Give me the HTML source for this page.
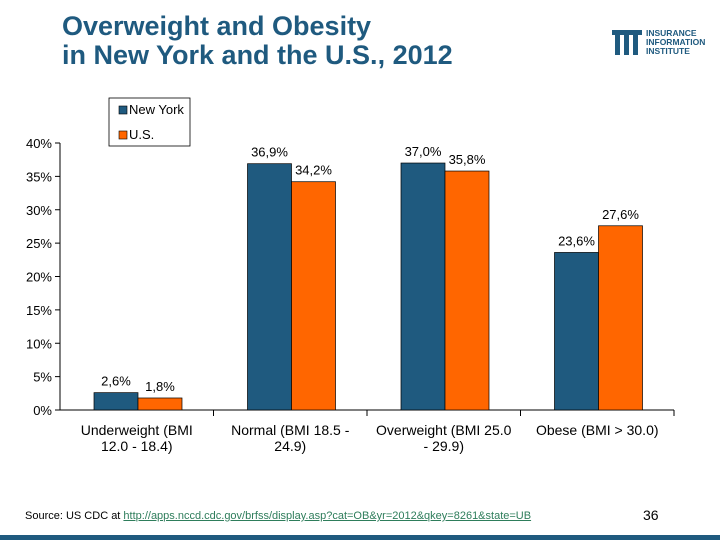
<!DOCTYPE html>
<html><head><meta charset="utf-8"><style>
body{margin:0;width:720px;height:540px;overflow:hidden;background:#fff;font-family:"Liberation Sans",Arial,sans-serif;position:relative}
.t{position:absolute;left:62px;top:12px;font-size:27px;font-weight:bold;color:#1f5a7f;line-height:29px}
</style></head><body>
<div class="t">Overweight and Obesity<br>in New York and the U.S., 2012</div>
<svg style="position:absolute;left:610px;top:26px" width="110" height="34">
<g fill="#1f5a7f"><rect x="2" y="4" width="30" height="5"/><rect x="5" y="9" width="5" height="20"/><rect x="14" y="9" width="5" height="20"/><rect x="23" y="9" width="5" height="20"/></g>
<text x="36" y="10" font-size="8.5" font-weight="bold" fill="#1f5a7f" font-family="Liberation Sans">INSURANCE</text>
<text x="36" y="19" font-size="8.5" font-weight="bold" fill="#1f5a7f" font-family="Liberation Sans">INFORMATION</text>
<text x="36" y="28" font-size="8.5" font-weight="bold" fill="#1f5a7f" font-family="Liberation Sans">INSTITUTE</text>
</svg>
<svg id="c" width="720" height="540" style="position:absolute;left:0;top:0" font-family="Liberation Sans" font-size="13"></svg>
<div style="position:absolute;left:25px;top:510px;font-size:11px;color:#000">Source: US CDC at <span style="color:#2e7d5b;text-decoration:underline">http://apps.nccd.cdc.gov/brfss/display.asp?cat=OB&amp;yr=2012&amp;qkey=8261&amp;state=UB</span></div>
<div style="position:absolute;left:643px;top:507px;font-size:14px">36</div>
<div style="position:absolute;left:0;top:535px;width:720px;height:5px;background:#1f5a7f"></div>
<script>
const categories=[["Underweight (BMI","12.0 - 18.4)"],["Normal (BMI 18.5 -","24.9)"],["Overweight (BMI 25.0","- 29.9)"],["Obese (BMI > 30.0)"]];
const nyValues=[2.6,36.9,37.0,23.6];
const usValues=[1.8,34.2,35.8,27.6];
const yTicks=[0,5,10,15,20,25,30,35,40];
const svg=document.getElementById('c');const NS='http://www.w3.org/2000/svg';
function mk(t,a,p){const e=document.createElementNS(NS,t);for(const k in a)e.setAttribute(k,a[k]);(p||svg).appendChild(e);return e;}
const x0=60,x1=674,y0=410,yTop=143;
const y=v=>y0-(v/40)*(y0-yTop);
const cw=(x1-x0)/categories.length;
const cx=i=>x0+i*cw;
let l=mk('line',{x1:x0,y1:yTop,x2:x0,y2:y0,stroke:'#000'});

l=mk('line',{x1:x0,y1:y0,x2:x1,y2:y0,stroke:'#000'});

yTicks.forEach(v=>{
 mk('line',{x1:x0-5,y1:y(v),x2:x0,y2:y(v),stroke:'#000'});
 const t=mk('text',{x:52,y:y(v)+5,'text-anchor':'end'});t.textContent=v+'%';
 
});
categories.forEach((c,i)=>{
 mk('line',{x1:cx(i+1),y1:y0,x2:cx(i+1),y2:y0+6,stroke:'#000'});
 c.forEach((s,j)=>{const t=mk('text',{x:cx(i)+cw/2,y:y0+25+j*16,'text-anchor':'middle','font-size':'14'});t.textContent=s;
 });
 [[nyValues,'#1f5a7f',0,'bar-new-york'],[usValues,'#ff6600',1,'bar-us']].forEach(([arr,col,k,nm])=>{
  const bx=cx(i)+34+k*44;
  const r=mk('rect',{x:bx,y:y(arr[i]),width:44,height:y0-y(arr[i]),fill:col,stroke:'#000','stroke-width':0.7});
  
  const t=mk('text',{x:bx+22,y:y(arr[i])-7,'text-anchor':'middle'});t.textContent=arr[i].toFixed(1).replace('.',',')+'%';
  
 });
});
const lg=mk('g',{});
mk('rect',{x:109,y:98,width:81,height:48,fill:'#fff',stroke:'#000','stroke-width':0.8},lg);
mk('rect',{x:119,y:106,width:8,height:8,fill:'#1f5a7f',stroke:'#000','stroke-width':0.6},lg);
let t=mk('text',{x:129,y:114},lg);t.textContent='New York';
mk('rect',{x:119,y:131,width:8,height:8,fill:'#ff6600',stroke:'#000','stroke-width':0.6},lg);
t=mk('text',{x:129,y:139},lg);t.textContent='U.S.';
</script>
</body></html>
